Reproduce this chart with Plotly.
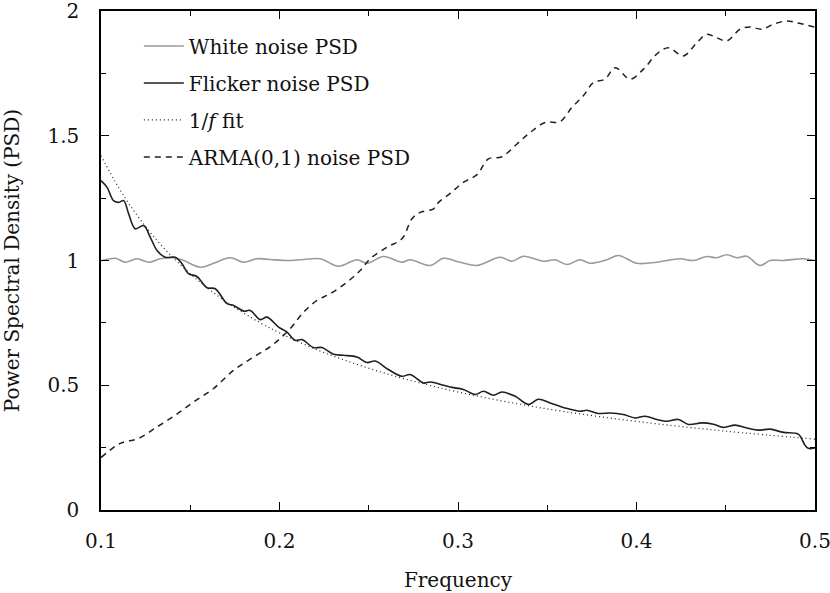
import plotly.graph_objects as go

# ---------------- data ----------------
white_freq = [0.1, 0.1006, 0.108, 0.1136, 0.1202, 0.1267, 0.1332, 0.1398, 0.1454, 0.1556, 0.1631,
              0.1724, 0.1799, 0.1874, 0.1948, 0.2042, 0.2135, 0.2228, 0.2331, 0.2434, 0.249,
              0.2583, 0.2686, 0.2732, 0.2844, 0.2919, 0.3012, 0.3106, 0.3236, 0.3302, 0.3367,
              0.3479, 0.3544, 0.361, 0.3684, 0.374, 0.3834, 0.3899, 0.4002, 0.4114, 0.4244,
              0.4318, 0.4394, 0.4449, 0.4506, 0.4562, 0.4618, 0.4692, 0.4748, 0.4823, 0.4934, 0.5]
white_psd = [1.0, 1.0, 1.009, 0.993, 1.007, 0.993, 1.007, 1.011, 1.003, 0.973, 0.989,
             1.011, 0.993, 1.007, 1.004, 1.0, 1.004, 1.007, 0.977, 1.003, 0.989,
             1.016, 0.993, 1.003, 0.98, 1.009, 0.993, 0.98, 1.013, 0.997, 1.017,
             0.997, 1.003, 0.984, 1.003, 0.989, 1.003, 1.02, 0.989, 0.993, 1.007,
             1.0, 1.016, 1.011, 1.023, 1.011, 1.017, 0.98, 1.0, 1.0, 1.007, 1.0]

flicker_freq = [0.1, 0.1034, 0.107, 0.1099, 0.1127, 0.1155, 0.1192, 0.1239, 0.1276, 0.1314, 0.136,
                0.1416, 0.1454, 0.149, 0.1537, 0.1594, 0.164, 0.1706, 0.1743, 0.18, 0.1836,
                0.1892, 0.193, 0.1995, 0.2042, 0.2088, 0.2126, 0.219, 0.2238, 0.2303, 0.2359,
                0.2434, 0.249, 0.2536, 0.261, 0.2686, 0.2732, 0.2807, 0.2844, 0.2919, 0.2956,
                0.303, 0.3096, 0.3143, 0.3199, 0.3246, 0.332, 0.3395, 0.345, 0.3516, 0.36,
                0.3684, 0.3721, 0.3786, 0.3852, 0.3926, 0.3992, 0.4048, 0.4114, 0.417, 0.4235,
                0.4291, 0.4366, 0.4431, 0.4487, 0.4552, 0.4618, 0.4683, 0.4748, 0.4823, 0.4906,
                0.4944, 0.4963, 0.5]
flicker_psd = [1.32, 1.293, 1.24, 1.233, 1.24, 1.187, 1.127, 1.14, 1.093, 1.04, 1.013,
               1.013, 0.987, 0.947, 0.936, 0.891, 0.887, 0.827, 0.82, 0.797, 0.8,
               0.763, 0.773, 0.733, 0.713, 0.68, 0.683, 0.651, 0.651, 0.624, 0.62,
               0.613, 0.591, 0.597, 0.563, 0.536, 0.543, 0.509, 0.513, 0.5, 0.493,
               0.483, 0.463, 0.476, 0.46, 0.473, 0.456, 0.423, 0.444, 0.429, 0.409,
               0.396, 0.4, 0.387, 0.389, 0.383, 0.369, 0.376, 0.363, 0.356, 0.363,
               0.343, 0.349, 0.344, 0.331, 0.34, 0.329, 0.32, 0.324, 0.311, 0.304,
               0.26, 0.247, 0.249]

fit_freq = [0.10, 0.11, 0.12, 0.13, 0.14, 0.15, 0.16, 0.17, 0.18, 0.19, 0.20, 0.22, 0.24,
            0.26, 0.28, 0.30, 0.33, 0.36, 0.40, 0.45, 0.50]
fit_psd = [1.42, 1.291, 1.183, 1.092, 1.014, 0.947, 0.888, 0.835, 0.789, 0.747, 0.71, 0.645, 0.592,
           0.546, 0.507, 0.473, 0.430, 0.394, 0.355, 0.316, 0.284]

arma_freq = [0.1, 0.1108, 0.1211, 0.1314, 0.1416, 0.1519, 0.1631, 0.1743, 0.1855, 0.1958, 0.206,
             0.2135, 0.221, 0.2284, 0.2378, 0.2452, 0.2508, 0.2602, 0.2686, 0.2742, 0.2788,
             0.2863, 0.2891, 0.2956, 0.303, 0.3106, 0.317, 0.3246, 0.333, 0.3404, 0.3488,
             0.3572, 0.3637, 0.3702, 0.3758, 0.3824, 0.388, 0.3964, 0.4039, 0.4113, 0.4179,
             0.4262, 0.4338, 0.4394, 0.4449, 0.4506, 0.458, 0.4636, 0.4702, 0.4767, 0.4842,
             0.4897, 0.5]
arma_psd = [0.21, 0.267, 0.287, 0.333, 0.38, 0.433, 0.487, 0.56, 0.613, 0.66, 0.727,
            0.793, 0.84, 0.867, 0.913, 0.96, 1.007, 1.053, 1.087, 1.167, 1.193,
            1.207, 1.233, 1.269, 1.313, 1.344, 1.407, 1.416, 1.467, 1.513, 1.553,
            1.557, 1.613, 1.66, 1.713, 1.727, 1.773, 1.727, 1.767, 1.827, 1.853,
            1.82, 1.873, 1.907, 1.893, 1.88, 1.927, 1.936, 1.927, 1.947, 1.96,
            1.953, 1.935]

x_ticks = [0.1, 0.2, 0.3, 0.4, 0.5]
y_ticks = [0, 0.5, 1, 1.5, 2]

FONT = "DejaVu Serif"
FS = 20

fig = go.Figure()
fig.add_trace(go.Scatter(x=white_freq, y=white_psd, mode="lines", name="White noise PSD",
                         line=dict(color="#9a9a9a", width=1.6, shape="spline"),
                         legendgroup="a"))
fig.add_trace(go.Scatter(x=flicker_freq, y=flicker_psd, mode="lines", name="Flicker noise PSD",
                         line=dict(color="#202020", width=1.6, shape="spline"),
                         legendgroup="b"))
fig.add_trace(go.Scatter(x=fit_freq, y=fit_psd, mode="lines", name="1/<i>f</i> fit",
                         line=dict(color="#202020", width=1.2, dash="1px,3px", shape="spline"),
                         legendgroup="c"))
fig.add_trace(go.Scatter(x=arma_freq, y=arma_psd, mode="lines", name="ARMA(0,1) noise PSD",
                         line=dict(color="#202020", width=1.5, dash="6px,5px", shape="spline"),
                         legendgroup="d"))

axis_common = dict(showline=True, linecolor="black", linewidth=1.5, mirror="ticks",
                   ticks="inside", tickcolor="black", tickwidth=1.3, showgrid=False,
                   zeroline=False, automargin=False, ticklabeloverflow="allow",
                   tickfont=dict(family=FONT, size=FS, color="#111"))

fig.update_xaxes(range=[0.1, 0.5], tickvals=x_ticks, ticktext=[str(v) for v in x_ticks],
                 ticklen=8, minor=dict(dtick=0.05, tick0=0.1, ticks="inside", ticklen=5,
                                       tickcolor="black", tickwidth=1.3),
                 title=dict(text="Frequency", font=dict(family=FONT, size=FS, color="#111"),
                            standoff=21),
                 ticklabelstandoff=12, **axis_common)
fig.update_yaxes(range=[0, 2], tickvals=y_ticks, ticktext=["0", "0.5", "1", "1.5", "2"],
                 ticklen=8, minor=dict(dtick=0.25, tick0=0, ticks="inside", ticklen=5,
                                       tickcolor="black", tickwidth=1.3),
                 title=dict(text="Power Spectral Density (PSD)",
                            font=dict(family=FONT, size=FS, color="#111"), standoff=25),
                 ticklabelstandoff=16, **axis_common)

fig.update_layout(
    width=830, height=593,
    margin=dict(l=101, r=15, t=11, b=83),
    plot_bgcolor="white", paper_bgcolor="white",
    font=dict(family=FONT, size=FS, color="#111"),
    legend=dict(x=0.053, y=0.969, xanchor="left", yanchor="top",
                bgcolor="rgba(0,0,0,0)", borderwidth=0,
                font=dict(family=FONT, size=FS, color="#111"),
                tracegroupgap=8, traceorder="grouped", itemwidth=40),
    showlegend=True,
)

fig.write_html("out.html", config={"displayModeBar": False},
               post_script="document.body.style.margin='0';")
